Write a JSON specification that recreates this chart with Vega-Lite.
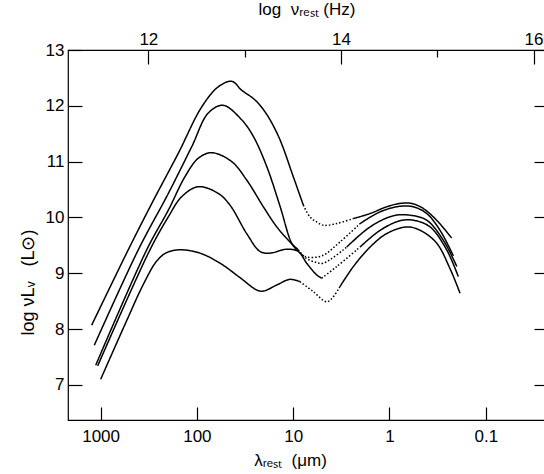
{
  "$schema": "https://vega.github.io/schema/vega-lite/v6.json",
  "width": 477,
  "height": 370,
  "autosize": {"type": "none"},
  "padding": {"left": 68, "top": 50, "right": 0, "bottom": 54},
  "background": "white",
  "config": {
    "view": {"stroke": "black", "strokeWidth": 1.2},
    "axis": {
      "labelFont": "Liberation Sans",
      "titleFont": "Liberation Sans",
      "labelColor": "black",
      "titleColor": "black",
      "tickColor": "black",
      "labelFontSize": 17,
      "titleFontSize": 17,
      "titleFontWeight": "normal",
      "domain": false,
      "grid": false,
      "tickWidth": 1.2
    }
  },
  "data": {
    "values": [
      {"seg": "A1", "style": "solid", "lam": 1237, "y": 8.07},
      {"seg": "A1", "style": "solid", "lam": 516, "y": 9.42},
      {"seg": "A1", "style": "solid", "lam": 294, "y": 10.25},
      {"seg": "A1", "style": "solid", "lam": 156, "y": 11.15},
      {"seg": "A1", "style": "solid", "lam": 89.1, "y": 11.98},
      {"seg": "A1", "style": "solid", "lam": 60.0, "y": 12.34},
      {"seg": "A1", "style": "solid", "lam": 43.5, "y": 12.44},
      {"seg": "A1", "style": "solid", "lam": 34.3, "y": 12.28},
      {"seg": "A1", "style": "solid", "lam": 25.9, "y": 12.13},
      {"seg": "A1", "style": "solid", "lam": 22.1, "y": 12.01},
      {"seg": "A1", "style": "solid", "lam": 19.6, "y": 11.89},
      {"seg": "A1", "style": "solid", "lam": 17.4, "y": 11.75},
      {"seg": "A1", "style": "solid", "lam": 13.7, "y": 11.39},
      {"seg": "A1", "style": "solid", "lam": 9.98, "y": 10.73},
      {"seg": "A1", "style": "solid", "lam": 7.85, "y": 10.22},
      {"seg": "A2", "style": "dotted", "lam": 7.85, "y": 10.22},
      {"seg": "A2", "style": "dotted", "lam": 6.70, "y": 10.01},
      {"seg": "A2", "style": "dotted", "lam": 5.70, "y": 9.92},
      {"seg": "A2", "style": "dotted", "lam": 4.87, "y": 9.86},
      {"seg": "A2", "style": "dotted", "lam": 3.53, "y": 9.89},
      {"seg": "A2", "style": "dotted", "lam": 2.37, "y": 9.98},
      {"seg": "A3", "style": "solid", "lam": 2.37, "y": 9.98},
      {"seg": "A3", "style": "solid", "lam": 1.59, "y": 10.07},
      {"seg": "A3", "style": "solid", "lam": 1.07, "y": 10.19},
      {"seg": "A3", "style": "solid", "lam": 0.778, "y": 10.25},
      {"seg": "A3", "style": "solid", "lam": 0.588, "y": 10.25},
      {"seg": "A3", "style": "solid", "lam": 0.446, "y": 10.16},
      {"seg": "A3", "style": "solid", "lam": 0.324, "y": 9.95},
      {"seg": "A3", "style": "solid", "lam": 0.226, "y": 9.63},

      {"seg": "B1", "style": "solid", "lam": 1162, "y": 7.71},
      {"seg": "B1", "style": "solid", "lam": 406, "y": 9.42},
      {"seg": "B1", "style": "solid", "lam": 198, "y": 10.43},
      {"seg": "B1", "style": "solid", "lam": 113, "y": 11.27},
      {"seg": "B1", "style": "solid", "lam": 76.2, "y": 11.87},
      {"seg": "B1", "style": "solid", "lam": 53.6, "y": 12.01},
      {"seg": "B1", "style": "solid", "lam": 34.3, "y": 11.75},
      {"seg": "B1", "style": "solid", "lam": 25.9, "y": 11.45},
      {"seg": "B1", "style": "solid", "lam": 18.8, "y": 10.91},
      {"seg": "B1", "style": "solid", "lam": 13.7, "y": 10.20},
      {"seg": "B1", "style": "solid", "lam": 10.4, "y": 9.54},
      {"seg": "B1", "style": "solid", "lam": 9.20, "y": 9.42},
      {"seg": "B2", "style": "dotted", "lam": 9.20, "y": 9.42},
      {"seg": "B2", "style": "dotted", "lam": 7.55, "y": 9.30},
      {"seg": "B2", "style": "dotted", "lam": 5.06, "y": 9.31},
      {"seg": "B2", "style": "dotted", "lam": 3.27, "y": 9.56},
      {"seg": "B2", "style": "dotted", "lam": 2.02, "y": 9.89},
      {"seg": "B3", "style": "solid", "lam": 2.02, "y": 9.89},
      {"seg": "B3", "style": "solid", "lam": 1.25, "y": 10.10},
      {"seg": "B3", "style": "solid", "lam": 0.778, "y": 10.20},
      {"seg": "B3", "style": "solid", "lam": 0.566, "y": 10.19},
      {"seg": "B3", "style": "solid", "lam": 0.411, "y": 10.07},
      {"seg": "B3", "style": "solid", "lam": 0.299, "y": 9.77},
      {"seg": "B3", "style": "solid", "lam": 0.217, "y": 9.31},

      {"seg": "C1", "style": "solid", "lam": 1124, "y": 7.35},
      {"seg": "C1", "style": "solid", "lam": 332, "y": 9.42},
      {"seg": "C1", "style": "solid", "lam": 198, "y": 10.13},
      {"seg": "C1", "style": "solid", "lam": 133, "y": 10.73},
      {"seg": "C1", "style": "solid", "lam": 96.7, "y": 11.06},
      {"seg": "C1", "style": "solid", "lam": 70.2, "y": 11.16},
      {"seg": "C1", "style": "solid", "lam": 43.5, "y": 11.00},
      {"seg": "C1", "style": "solid", "lam": 30.4, "y": 10.67},
      {"seg": "C1", "style": "solid", "lam": 20.4, "y": 10.19},
      {"seg": "C1", "style": "solid", "lam": 14.8, "y": 9.83},
      {"seg": "C1", "style": "solid", "lam": 10.8, "y": 9.56},
      {"seg": "C1", "style": "solid", "lam": 8.85, "y": 9.42},
      {"seg": "C2", "style": "dotted", "lam": 8.85, "y": 9.42},
      {"seg": "C2", "style": "dotted", "lam": 7.36, "y": 9.27},
      {"seg": "C2", "style": "dotted", "lam": 5.94, "y": 9.20},
      {"seg": "C2", "style": "dotted", "lam": 4.87, "y": 9.18},
      {"seg": "C2", "style": "dotted", "lam": 2.78, "y": 9.47},
      {"seg": "C3", "style": "solid", "lam": 2.78, "y": 9.47},
      {"seg": "C3", "style": "solid", "lam": 1.59, "y": 9.83},
      {"seg": "C3", "style": "solid", "lam": 0.914, "y": 10.03},
      {"seg": "C3", "style": "solid", "lam": 0.612, "y": 10.04},
      {"seg": "C3", "style": "solid", "lam": 0.411, "y": 9.95},
      {"seg": "C3", "style": "solid", "lam": 0.276, "y": 9.59},
      {"seg": "C3", "style": "solid", "lam": 0.200, "y": 9.12},

      {"seg": "D1", "style": "solid", "lam": 1072, "y": 7.34},
      {"seg": "D1", "style": "solid", "lam": 307, "y": 9.42},
      {"seg": "D1", "style": "solid", "lam": 198, "y": 10.01},
      {"seg": "D1", "style": "solid", "lam": 144, "y": 10.37},
      {"seg": "D1", "style": "solid", "lam": 96.7, "y": 10.55},
      {"seg": "D1", "style": "solid", "lam": 60.0, "y": 10.43},
      {"seg": "D1", "style": "solid", "lam": 45.3, "y": 10.22},
      {"seg": "D1", "style": "solid", "lam": 30.4, "y": 9.71},
      {"seg": "D1", "style": "solid", "lam": 22.1, "y": 9.39},
      {"seg": "D1", "style": "solid", "lam": 17.4, "y": 9.36},
      {"seg": "D1", "style": "solid", "lam": 11.7, "y": 9.43},
      {"seg": "D1", "style": "solid", "lam": 8.85, "y": 9.39},
      {"seg": "D1", "style": "solid", "lam": 7.24, "y": 9.18},
      {"seg": "D1", "style": "solid", "lam": 5.70, "y": 8.97},
      {"seg": "D1", "style": "solid", "lam": 5.06, "y": 8.91},
      {"seg": "D2", "style": "dotted", "lam": 5.06, "y": 8.91},
      {"seg": "D2", "style": "dotted", "lam": 3.53, "y": 9.12},
      {"seg": "D2", "style": "dotted", "lam": 2.02, "y": 9.47},
      {"seg": "D3", "style": "solid", "lam": 2.02, "y": 9.47},
      {"seg": "D3", "style": "solid", "lam": 1.25, "y": 9.77},
      {"seg": "D3", "style": "solid", "lam": 0.778, "y": 9.94},
      {"seg": "D3", "style": "solid", "lam": 0.566, "y": 9.95},
      {"seg": "D3", "style": "solid", "lam": 0.379, "y": 9.83},
      {"seg": "D3", "style": "solid", "lam": 0.255, "y": 9.42},
      {"seg": "D3", "style": "solid", "lam": 0.193, "y": 8.94},

      {"seg": "E1", "style": "solid", "lam": 998, "y": 7.10},
      {"seg": "E1", "style": "solid", "lam": 536, "y": 8.15},
      {"seg": "E1", "style": "solid", "lam": 360, "y": 8.80},
      {"seg": "E1", "style": "solid", "lam": 261, "y": 9.22},
      {"seg": "E1", "style": "solid", "lam": 206, "y": 9.37},
      {"seg": "E1", "style": "solid", "lam": 150, "y": 9.42},
      {"seg": "E1", "style": "solid", "lam": 92.9, "y": 9.36},
      {"seg": "E1", "style": "solid", "lam": 57.5, "y": 9.18},
      {"seg": "E1", "style": "solid", "lam": 35.6, "y": 8.92},
      {"seg": "E1", "style": "solid", "lam": 23.9, "y": 8.70},
      {"seg": "E1", "style": "solid", "lam": 20.4, "y": 8.68},
      {"seg": "E1", "style": "solid", "lam": 14.8, "y": 8.79},
      {"seg": "E1", "style": "solid", "lam": 10.8, "y": 8.89},
      {"seg": "E1", "style": "solid", "lam": 8.50, "y": 8.85},
      {"seg": "E2", "style": "dotted", "lam": 8.50, "y": 8.85},
      {"seg": "E2", "style": "dotted", "lam": 6.18, "y": 8.67},
      {"seg": "E2", "style": "dotted", "lam": 4.42, "y": 8.49},
      {"seg": "E2", "style": "dotted", "lam": 3.27, "y": 8.76},
      {"seg": "E3", "style": "solid", "lam": 3.27, "y": 8.76},
      {"seg": "E3", "style": "solid", "lam": 2.37, "y": 9.12},
      {"seg": "E3", "style": "solid", "lam": 1.59, "y": 9.47},
      {"seg": "E3", "style": "solid", "lam": 1.07, "y": 9.71},
      {"seg": "E3", "style": "solid", "lam": 0.663, "y": 9.83},
      {"seg": "E3", "style": "solid", "lam": 0.482, "y": 9.77},
      {"seg": "E3", "style": "solid", "lam": 0.324, "y": 9.54},
      {"seg": "E3", "style": "solid", "lam": 0.235, "y": 9.08},
      {"seg": "E3", "style": "solid", "lam": 0.185, "y": 8.64}
    ]
  },
  "layer": [
    {
      "mark": {"type": "line", "interpolate": "catmull-rom", "color": "black", "strokeWidth": 1.5},
      "encoding": {
        "x": {
          "field": "lam", "type": "quantitative",
          "scale": {"type": "log", "domain": [0.02428, 2180], "reverse": true, "nice": false},
          "axis": {
            "orient": "bottom", "values": [1000, 100, 10, 1, 0.1], "format": "~g",
            "tickSize": -13, "labelPadding": 21,
            "title": "λᵣₑₛₜ\u00a0\u00a0(μm)", "titlePadding": 8, "titleX": 222
          }
        },
        "y": {
          "field": "y", "type": "quantitative",
          "scale": {"domain": [6.37, 13], "nice": false, "zero": false},
          "axis": {
            "orient": "left", "values": [7, 8, 9, 10, 11, 12, 13],
            "tickSize": -14, "labelPadding": 18,
            "title": "log\u00a0νLᵥ\u00a0\u00a0\u00a0(L⊙)", "titleFontSize": 18, "titleX": -31, "titleY": 232
          }
        },
        "detail": {"field": "seg"},
        "strokeDash": {
          "field": "style", "type": "nominal",
          "scale": {"domain": ["solid", "dotted"], "range": [[1, 0], [1.5, 2]]},
          "legend": null
        }
      }
    },
    {
      "mark": {"type": "line", "strokeOpacity": 0},
      "encoding": {
        "x": {
          "field": "lam", "type": "quantitative",
          "scale": {"type": "log", "domain": [0.02428, 2180], "reverse": true, "nice": false},
          "axis": {
            "orient": "top", "values": [319.2, 31.92, 3.192, 0.3192, 0.03192],
            "labelExpr": "datum.value > 100 ? '12' : (datum.value > 1 && datum.value < 10) ? '14' : datum.value < 0.1 ? '16' : ''",
            "tickSize": {"condition": {"test": "(datum.value > 10 && datum.value < 100) || (datum.value > 0.1 && datum.value < 1)", "value": -7}, "value": -14},
            "labelPadding": 16,
            "title": "log\u00a0\u00a0νᵣₑₛₜ\u00a0(Hz)", "titlePadding": 12
          }
        },
        "y": {
          "field": "y", "type": "quantitative",
          "scale": {"domain": [6.37, 13], "nice": false, "zero": false},
          "axis": {
            "orient": "right", "values": [7, 8, 9, 10, 11, 12, 13],
            "tickSize": -11, "labels": false, "title": null
          }
        },
        "detail": {"field": "seg"}
      }
    }
  ],
  "resolve": {"axis": {"x": "independent", "y": "independent"}}
}
